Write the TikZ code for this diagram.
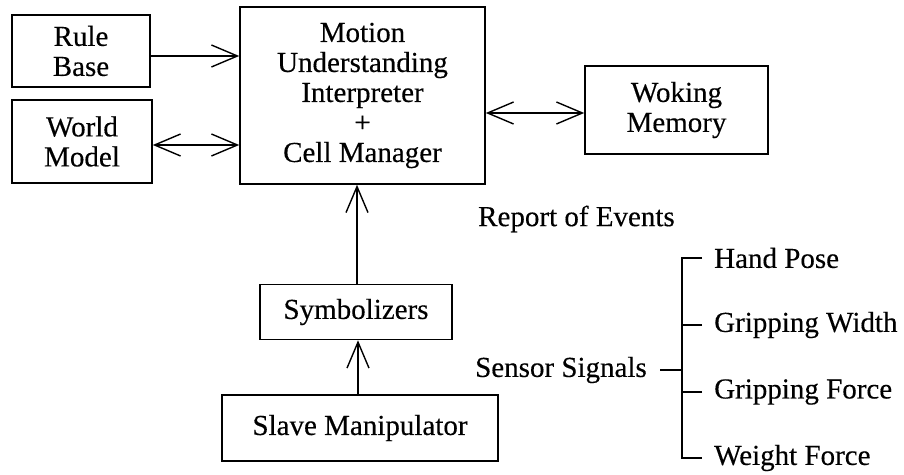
\documentclass[tikz,border=0pt]{standalone}
\usepackage{fontspec}
\setmainfont[FakeBold=0.3]{Liberation Serif}
\usetikzlibrary{arrows.meta}
\newcommand{\dfont}{\fontsize{29bp}{30bp}\selectfont}
\tikzset{
  box/.style={draw, line width=1.6bp, inner sep=0pt, align=center, font=\dfont},
  lbl/.style={inner sep=0pt, font=\dfont},
  arr/.style={line width=1.4bp, -{Straight Barb[length=26bp,width=22bp,line width=1.4bp]}},
  darr/.style={line width=1.4bp, {Straight Barb[length=26bp,width=22bp,line width=1.4bp]}-{Straight Barb[length=26bp,width=22bp,line width=1.4bp]}},
  brk/.style={line width=1.6bp}
}
\begin{document}
\begin{tikzpicture}[x=1bp,y=1bp]
\useasboundingbox (0,0) rectangle (904,-475);
\node[box, minimum width=245bp, minimum height=177bp] (main) at (362.5,-95.5) {Motion\\Understanding\\Interpreter\\+\\Cell Manager};
\node[box, minimum width=138bp, minimum height=72bp] (rb) at (81,-51) {Rule\\Base};
\node[box, minimum width=140bp, minimum height=83bp] (wd) at (82,-141.5) {World\\Model};
\node[box, minimum width=183bp, minimum height=88bp] (wm) at (676.5,-110) {Woking\\Memory};
\node[box, minimum width=192bp, minimum height=55bp] (sym) at (356,-312) {Symbolizers};
\node[box, minimum width=276bp, minimum height=66bp] (sl) at (360,-428) {Slave Manipulator};
\node[lbl, anchor=west] (roe) at (478,-219) {Report of Events};
% arrows
\draw[arr] ([yshift=-5bp]rb.east) -- ([yshift=-5bp]rb.east -| main.west);
\draw[darr] ([yshift=-3.5bp]wd.east) -- ([yshift=-3.5bp]wd.east -| main.west);
\draw[darr] ([yshift=-3bp]wm.west -| main.east) -- ([yshift=-3bp]wm.west);
\draw[arr] ([xshift=1bp]sym.north) -- ([xshift=1bp]sym.north |- main.south);
\draw[arr] ([xshift=-2bp]sl.north) -- ([xshift=-2bp]sl.north |- sym.south);
% sensor signals bracket
\node[lbl, anchor=east, inner xsep=13bp] (ss) at (660,-370) {Sensor Signals};
\coordinate (sj) at (682,-370);
\coordinate (bt) at (682,-258);
\coordinate (bb) at (682,-458);
\node[lbl, anchor=west, inner xsep=12bp] (hp) at (702,-258) {Hand Pose};
\node[lbl, anchor=west, inner xsep=12bp] (gw) at (702,-325) {Gripping Width};
\node[lbl, anchor=west, inner xsep=12bp] (gf) at (702,-392) {Gripping Force};
\node[lbl, anchor=west, inner xsep=12bp] (wf) at (702,-458) {Weight Force};
\draw[brk] (ss.east) -- (sj);
\draw[brk] (hp.west) -- (bt) -- (bb) -- (wf.west);
\draw[brk] (gw.west) -- (gw.west -| bt);
\draw[brk] (gf.west) -- (gf.west -| bt);
\end{tikzpicture}
\end{document}
